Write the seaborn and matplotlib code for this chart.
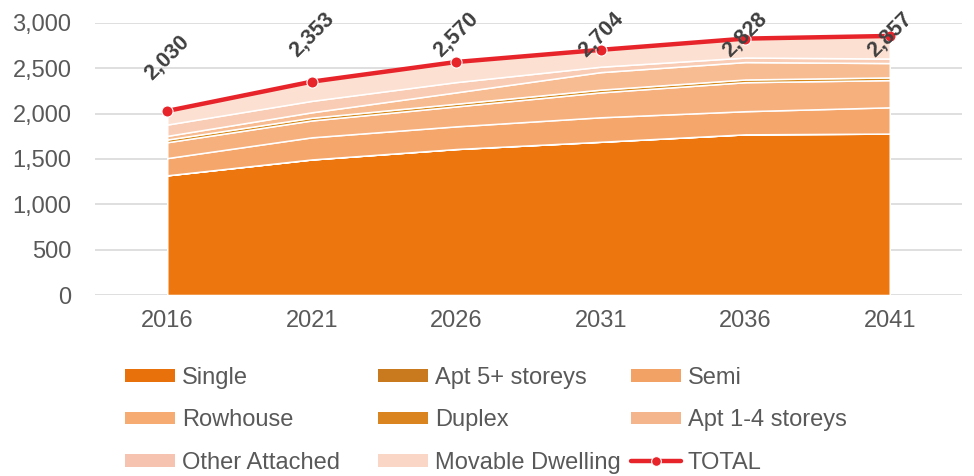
import matplotlib
matplotlib.use("Agg")
import matplotlib.pyplot as plt
from matplotlib.lines import Line2D
from matplotlib.patches import Patch
import pandas as pd
import seaborn as sns

# values (dwelling counts by type)
years = [2016, 2021, 2026, 2031, 2036, 2041]
single = [1320, 1495, 1610, 1690, 1772, 1780]
apt_5plus = [0, 0, 0, 0, 0, 0]
semi = [190, 244, 250, 270, 255, 290]
rowhouse = [175, 186, 220, 275, 320, 300]
duplex = [30, 30, 30, 30, 30, 30]
apt_1to4 = [40, 60, 125, 193, 192, 158]
other_attached = [125, 126, 113, 60, 50, 50]
movable = [150, 212, 222, 186, 209, 249]
total = [2030, 2353, 2570, 2704, 2828, 2857]

series_names = ["Single", "Apt 5+ storeys", "Semi", "Rowhouse", "Duplex",
                "Apt 1-4 storeys", "Other Attached", "Movable Dwelling"]
series_values = [single, apt_5plus, semi, rowhouse, duplex,
                 apt_1to4, other_attached, movable]
colors = ["#ED760E", "#C97A1E", "#F5A66B", "#F6B07E", "#D4891A",
          "#F8BC92", "#F9CDB5", "#FCE0D2"]
legend_colors = ["#E8710C", "#C97A1E", "#F2A264", "#F6AB72", "#D9841E",
                 "#F4B58C", "#F6C3B0", "#F9D6C6"]
TOTAL_RED = "#E8242B"
GRAY = "#595959"

sns.set_theme(style="white")
plt.rcParams["font.family"] = ["Liberation Sans", "DejaVu Sans"]

fig = plt.figure(figsize=(9.74, 4.76), dpi=100)
ax = fig.add_axes([95 / 974, 1 - 295 / 476, (962 - 95) / 974, (295 - 23) / 476])

ax.stackplot(years, *series_values, colors=colors, edgecolor="white", linewidth=1.1)

df_total = pd.DataFrame({"year": years, "total": total})
sns.lineplot(data=df_total, x="year", y="total", ax=ax, color=TOTAL_RED,
             linewidth=3.2, marker="o", markersize=8, markeredgecolor="white",
             markeredgewidth=0.8, zorder=5, legend=False)

# data labels, pushed down when they would leave the chart area
for x, t in zip(years, total):
    ax.text(x, min(t + 590, 2870), f"{t:,}", rotation=45, ha="center", va="center",
            fontsize=15.5, fontweight="bold", color="#404040", clip_on=False, zorder=6)

ax.set_xlim(years[0] - 2.5, years[-1] + 2.5)
ax.set_ylim(0, 3000)
ax.set_xticks(years)
ax.set_yticks(range(0, 3001, 500))
ax.set_yticklabels([f"{v:,}" for v in range(0, 3001, 500)])
ax.tick_params(axis="y", length=0, pad=17, labelsize=17, labelcolor=GRAY)
ax.tick_params(axis="x", length=0, pad=11, labelsize=17, labelcolor=GRAY)
ax.set_xlabel("")
ax.set_ylabel("")
ax.grid(axis="y", color="#D9D9D9", linewidth=1.2)
ax.set_axisbelow(True)
for s in ax.spines.values():
    s.set_visible(False)

# legend: 3 columns, laid out row by row like the original
handles = [Patch(facecolor=c, edgecolor="none") for c in legend_colors]
handles.append(Line2D([0], [0], color=TOTAL_RED, linewidth=3.2, marker="o",
                      markersize=7, markeredgecolor="white", markeredgewidth=0.8))
labels = series_names + ["TOTAL"]
col_x = [125, 378, 631]
for c in range(3):
    idx = [c, c + 3, c + 6]
    fig.legend([handles[i] for i in idx], [labels[i] for i in idx],
               loc="upper left", bbox_to_anchor=(col_x[c] / 974, 1 - 367 / 476),
               frameon=False, fontsize=17, labelcolor=GRAY, borderpad=0,
               handlelength=2.1, handleheight=0.45, handletextpad=0.3,
               labelspacing=0.86, borderaxespad=0)

fig.savefig("out.png", dpi=100)
